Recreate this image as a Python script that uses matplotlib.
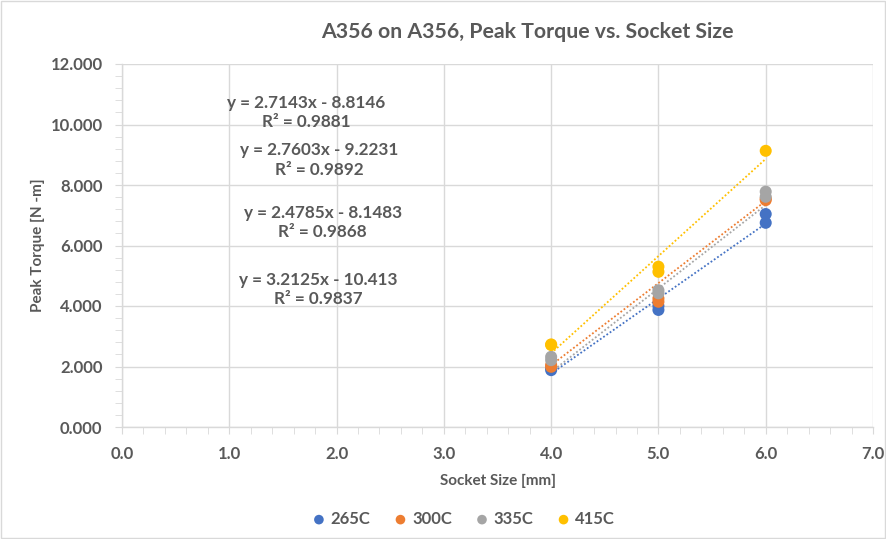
import matplotlib
matplotlib.use("Agg")
import matplotlib.pyplot as plt
import numpy as np
from matplotlib.ticker import MultipleLocator, FormatStrFormatter
from matplotlib.patches import Rectangle

plt.rcParams['font.family'] = ['Lato', 'DejaVu Sans']

series_names = ["265C", "300C", "335C", "415C"]
colors = ["#4472C4", "#ED7D31", "#A5A5A5", "#FFC000"]

x_265 = [4, 4, 5, 5, 6, 6]
y_265 = [1.88, 1.95, 3.87, 4.00, 6.75, 7.04]
x_300 = [4, 4, 5, 5, 6, 6]
y_300 = [1.99, 2.05, 4.14, 4.25, 7.50, 7.55]
x_335 = [4, 4, 5, 5, 6, 6]
y_335 = [2.21, 2.32, 4.42, 4.52, 7.61, 7.78]
x_415 = [4, 4, 5, 5, 6]
y_415 = [2.71, 2.73, 5.13, 5.30, 9.13]

slopes = [2.4785, 2.7143, 2.7603, 3.2125]
intercepts = [-8.1483, -8.8146, -9.2231, -10.413]

eq_labels = ["y = 2.7143x - 8.8146\nR² = 0.9881",
             "y = 2.7603x - 9.2231\nR² = 0.9892",
             "y = 2.4785x - 8.1483\nR² = 0.9868",
             "y = 3.2125x - 10.413\nR² = 0.9837"]
eq_pos = [(1.72, 10.4), (1.84, 8.83), (1.87, 6.75), (1.83, 4.55)]

xs = [x_265, x_300, x_335, x_415]
ys = [y_265, y_300, y_335, y_415]

W, H = 886, 539
fig = plt.figure(figsize=(W / 100, H / 100), dpi=100)
ax = fig.add_axes([122 / W, 1 - 427 / H, (873 - 122) / W, (427 - 64) / H])

text_col = "#595959"
grid_col = "#D9D9D9"

for i in range(4):
    ax.scatter(xs[i], ys[i], s=75, color=colors[i], zorder=3, label=series_names[i],
               edgecolors='none')
for i in range(4):
    xl = np.array([4.0, 6.0])
    ax.plot(xl, slopes[i] * xl + intercepts[i], linestyle=(0, (1, 1.2)), color=colors[i],
            lw=1.3, zorder=2)

for lbl, (px, py) in zip(eq_labels, eq_pos):
    ax.text(px, py, lbl, ha='center', va='center', fontsize=12.3, fontweight='bold',
            color=text_col, linespacing=1.25, zorder=4)

ax.set_xlim(0, 7)
ax.set_ylim(0, 12)
ax.xaxis.set_major_locator(MultipleLocator(1))
ax.xaxis.set_minor_locator(MultipleLocator(0.2))
ax.yaxis.set_major_locator(MultipleLocator(2))
ax.yaxis.set_minor_locator(MultipleLocator(0.4))
ax.xaxis.set_major_formatter(FormatStrFormatter('%.1f'))
ax.yaxis.set_major_formatter(FormatStrFormatter('%.3f'))
ax.grid(True, which='major', color=grid_col, lw=1)
ax.set_axisbelow(True)
for s in ['top', 'right']:
    ax.spines[s].set_visible(False)
for s in ['left', 'bottom']:
    ax.spines[s].set_color(grid_col)
    ax.spines[s].set_linewidth(1)
ax.tick_params(which='both', color=grid_col, direction='out')
ax.tick_params(which='major', length=5, labelsize=12, labelcolor=text_col, pad=9)
ax.tick_params(which='minor', length=5)
for lab in ax.get_xticklabels() + ax.get_yticklabels():
    lab.set_fontweight('bold')

ax.set_xlabel("Socket Size [mm]", fontsize=11, fontweight='bold', color=text_col, labelpad=8)
ax.set_ylabel("Peak Torque [N -m]", fontsize=11, fontweight='bold', color=text_col, labelpad=4)

fig.text(527 / W, 1 - 32 / H, "A356 on A356, Peak Torque vs. Socket Size", ha='center',
         va='center', fontsize=15.3, fontweight='bold', color=text_col)

leg = fig.legend(loc='center', bbox_to_anchor=(462 / W, 1 - 519 / H), ncol=4, frameon=False,
                 fontsize=12, handletextpad=0.1, columnspacing=1.2, markerscale=0.8,
                 handlelength=1.2)
for t in leg.get_texts():
    t.set_color(text_col)
    t.set_fontweight('bold')

fig.patches.append(Rectangle((1 / W, 1 / H), 1 - 2 / W, 1 - 2 / H, transform=fig.transFigure,
                             fill=False, edgecolor="#D9D9D9", lw=1))

fig.savefig("out.png", dpi=100)
